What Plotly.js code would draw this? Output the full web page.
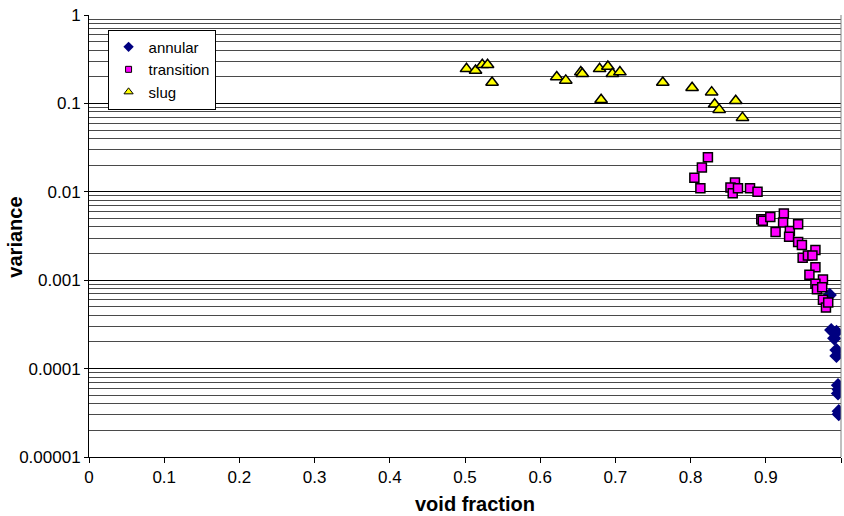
<!DOCTYPE html>
<html>
<head>
<meta charset="utf-8">
<script src="https://cdn.plot.ly/plotly-3.0.1.min.js"></script>
<style>html,body{margin:0;padding:0;background:#fff;}#chart{width:844px;height:516px;}</style>
</head>
<body>
<div id="chart"></div>
<script>
// ---- data ----
const seriesNames = ["annular", "transition", "slug"];

const annularX = [0.985, 0.987, 0.994, 0.991, 0.994, 0.994, 0.996, 0.997, 0.996, 0.997, 0.997];
const annularY = [0.00068, 0.000273, 0.00026, 0.00022, 0.000162, 0.000139, 0.000065, 0.000058, 0.0000524, 0.000033, 0.0000305];

const transitionX = [0.823, 0.815, 0.805, 0.813, 0.859, 0.853, 0.856, 0.863, 0.879, 0.889,
  0.894, 0.896, 0.906, 0.924, 0.923, 0.913, 0.932, 0.931, 0.943, 0.943,
  0.948, 0.949, 0.956, 0.966, 0.962, 0.966, 0.958, 0.976, 0.966, 0.968,
  0.975, 0.976, 0.980, 0.983];
const transitionY = [0.0246, 0.0188, 0.0144, 0.0110, 0.0127, 0.0112, 0.0096, 0.0110, 0.0110, 0.0100,
  0.0049, 0.0047, 0.0052, 0.0057, 0.0045, 0.0035, 0.0036, 0.0031, 0.0043, 0.0027,
  0.0025, 0.0018, 0.0019, 0.0022, 0.0019, 0.0014, 0.00115, 0.00102, 0.00091, 0.00079,
  0.00083, 0.00060, 0.00049, 0.00056];

const slugX = [0.502, 0.514, 0.523, 0.530, 0.536, 0.622, 0.634, 0.654, 0.656, 0.679,
  0.681, 0.690, 0.696, 0.706, 0.763, 0.802, 0.828, 0.832, 0.838, 0.860, 0.869];
const slugY = [0.246, 0.236, 0.274, 0.274, 0.172, 0.199, 0.182, 0.226, 0.216, 0.246,
  0.110, 0.262, 0.216, 0.226, 0.172, 0.150, 0.134, 0.098, 0.085, 0.107, 0.069];

const yTickVals = [1, 0.1, 0.01, 0.001, 0.0001, 0.00001];
const yTickText = ["1", "0.1", "0.01", "0.001", "0.0001", "0.00001"];
const xTitle = "void fraction";
const yTitle = "variance";

// minor gridlines at 2..9 of each decade
const minorVals = [];
for (let d = -5; d < 0; d++) {
  for (let k = 2; k <= 9; k++) minorVals.push(k * Math.pow(10, d));
}

const FONT = "'Liberation Sans', Arial, Helvetica, sans-serif";

const styles = {
  annular: {symbol: "diamond", color: "#000080", line: {color: "#000080", width: 0}, size: 11, lsize: 8},
  transition: {symbol: "square", color: "#FF00FF", line: {color: "#000000", width: 1.5}, size: 9, lsize: 6},
  slug: {symbol: "triangle-up", color: "#FFFF00", line: {color: "#000000", width: 1.5}, size: 11, lsize: 8}
};

const dataX = {annular: annularX, transition: transitionX, slug: slugX};
const dataY = {annular: annularY, transition: transitionY, slug: slugY};

const traces = [];
seriesNames.forEach(function (n) {
  const s = styles[n];
  traces.push({
    type: "scatter", mode: "markers", name: n, showlegend: false,
    x: dataX[n], y: dataY[n],
    marker: {symbol: s.symbol, color: s.color, size: s.size, line: s.line},
    hoverinfo: "x+y+name"
  });
});
// legend-only traces with smaller symbols (like the reference legend)
seriesNames.forEach(function (n) {
  const s = styles[n];
  traces.push({
    type: "scatter", mode: "markers", name: n, showlegend: true,
    x: [null], y: [null],
    marker: {symbol: s.symbol, color: s.color, size: s.lsize, line: {color: s.line.color, width: s.line.width ? 1 : 0}}
  });
});

const layout = {
  width: 844, height: 516,
  margin: {l: 89, r: 3, t: 15, b: 59, pad: 0},
  paper_bgcolor: "#ffffff", plot_bgcolor: "#ffffff",
  font: {family: FONT, size: 17, color: "#000"},
  showlegend: true,
  legend: {
    x: 0.0247, y: 0.967, xanchor: "left", yanchor: "top",
    bgcolor: "#ffffff", bordercolor: "#000000", borderwidth: 1,
    font: {family: FONT, size: 15, color: "#000"},
    itemwidth: 30, tracegroupgap: 0
  },
  xaxis: {
    type: "linear", range: [0, 1], tickmode: "linear", tick0: 0, dtick: 0.1,
    showgrid: false, zeroline: false,
    showline: true, linecolor: "#000", linewidth: 1,
    ticks: "outside", ticklen: 5, tickcolor: "#000", tickwidth: 1,
    tickfont: {family: FONT, size: 17, color: "#000"},
    fixedrange: true
  },
  yaxis: {
    type: "log", range: [-5, 0],
    tickmode: "array", tickvals: yTickVals, ticktext: yTickText,
    showgrid: true, gridcolor: "#000000", gridwidth: 1,
    minor: {tickmode: "array", tickvals: minorVals, showgrid: true, gridcolor: "#4a4a4a", gridwidth: 1, ticks: ""},
    zeroline: false,
    showline: true, linecolor: "#000", linewidth: 1,
    ticks: "outside", ticklen: 4, tickcolor: "#000", tickwidth: 1,
    tickfont: {family: FONT, size: 17, color: "#000"},
    fixedrange: true
  },
  shapes: [
    {type: "line", xref: "paper", yref: "paper", x0: 1, x1: 1, y0: 0, y1: 1, line: {color: "#808080", width: 1}}
  ],
  annotations: [
    {text: "<b>" + xTitle + "</b>", xref: "paper", yref: "paper", x: 0.513, y: -0.107,
     xanchor: "center", yanchor: "middle", showarrow: false, font: {family: FONT, size: 20, color: "#000"}},
    {text: "<b>" + yTitle + "</b>", xref: "paper", yref: "paper", x: -0.098, y: 0.497,
     xanchor: "center", yanchor: "middle", textangle: -90, showarrow: false, font: {family: FONT, size: 20, color: "#000"}}
  ]
};

Plotly.newPlot("chart", traces, layout, {displayModeBar: false, staticPlot: true});
</script>
</body>
</html>
